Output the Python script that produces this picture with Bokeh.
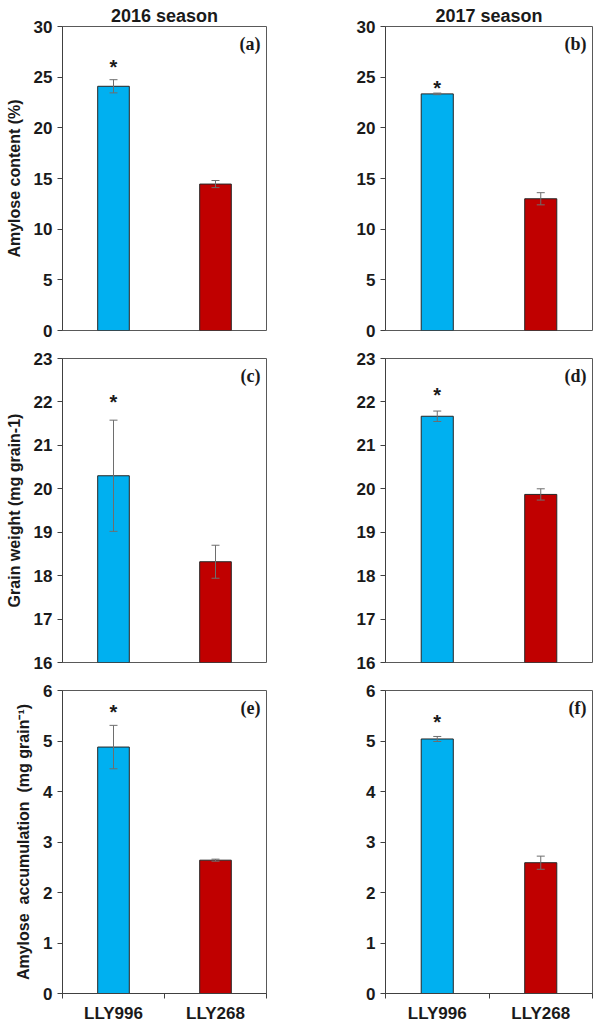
from bokeh.plotting import figure
from bokeh.layouts import gridplot
from bokeh.models import (ColumnDataSource, Whisker, TeeHead, Label, FixedTicker)
from bokeh.embed import file_html
from bokeh.resources import INLINE

# ---------------- data ----------------
cultivars = ["LLY996", "LLY268"]
seasons = ["2016 season", "2017 season"]

amylose_2016 = [24.1, 14.45]
amylose_2016_err = [0.65, 0.35]
amylose_2017 = [23.35, 13.0]
amylose_2017_err = [0.08, 0.6]

grain_2016 = [20.3, 18.32]
grain_2016_err = [1.28, 0.38]
grain_2017 = [21.67, 19.87]
grain_2017_err = [0.12, 0.13]

accum_2016 = [4.88, 2.64]
accum_2016_err = [0.43, 0.02]
accum_2017 = [5.04, 2.59]
accum_2017_err = [0.05, 0.13]

# asterisk (significance) heights
star_y = {"a": 26.35, "b": 24.3, "c": 22.1, "d": 22.25, "e": 5.65, "f": 5.45}

ticks_amylose = [0, 5, 10, 15, 20, 25, 30]
ticks_grain = [16, 17, 18, 19, 20, 21, 22, 23]
ticks_accum = [0, 1, 2, 3, 4, 5, 6]

ylabel_amylose = "Amylose content (%)"
ylabel_grain = "Grain weight (mg grain-1)"
ylabel_accum = "Amylose \u00a0accumulation \u00a0(mg grain\u207b\u00b9)"

# ---------------- style ----------------
BAR_COLORS = ["#00B0F0", "#C00000"]
FONT = "Liberation Sans"
SERIF = "Liberation Serif"
AXIS_COL = "#404040"
TEXT_COL = "#1a1a1a"
ERR_COL = "#6e6e6e"

xpos = [0.5, 1.5]


def make_panel(vals, errs, yrange, yticks, tag, star, left, top_row, bottom_row,
               title=None, ylabel=None):
    if left:
        width, mb_left, mb_right = 296, 62, 30
    else:
        width, mb_left, mb_right = 297, 89, 1
    if top_row:
        height, mb_top, mb_bottom = 339, 26, 9
    elif bottom_row:
        height, mb_top, mb_bottom = 354, 19, 31
    else:
        height, mb_top, mb_bottom = 332, 19, 9

    p = figure(width=width, height=height, x_range=(0, 2), y_range=yrange,
               output_backend="svg", toolbar_location=None,
               min_border_left=mb_left, min_border_right=mb_right,
               min_border_top=mb_top, min_border_bottom=mb_bottom,
               title=title)
    p.background_fill_color = "white"
    p.border_fill_color = "white"
    p.outline_line_color = "#595959"
    p.outline_line_width = 1
    p.xgrid.visible = False
    p.ygrid.visible = False

    if title:
        p.title.text_font = FONT
        p.title.text_font_style = "bold"
        p.title.text_font_size = "18px"
        p.title.text_color = TEXT_COL
        p.title.align = "center"
        p.title.standoff = 2
        p.title.offset = 0

    src = ColumnDataSource(dict(
        x=xpos, top=vals, color=BAR_COLORS,
        upper=[v + e for v, e in zip(vals, errs)],
        lower=[v - e for v, e in zip(vals, errs)],
    ))
    p.vbar(x="x", top="top", bottom=yrange[0], width=0.31, source=src,
           fill_color="color", line_color="#262626", line_width=1)

    w = Whisker(base="x", upper="upper", lower="lower", source=src,
                level="overlay",
                line_color=ERR_COL, line_width=1,
                upper_head=TeeHead(size=8, line_color=ERR_COL, line_width=1),
                lower_head=TeeHead(size=8, line_color=ERR_COL, line_width=1))
    p.add_layout(w)

    # significance asterisk
    p.add_layout(Label(x=xpos[0], y=star, text="*", text_align="center",
                       text_baseline="middle", y_offset=-4,
                       text_font=FONT, text_font_style="bold",
                       text_font_size="20px", text_color=TEXT_COL))
    # panel tag
    p.add_layout(Label(x=2, y=yrange[1], text="(" + tag + ")", text_align="right",
                       text_baseline="top", x_offset=-6, y_offset=-7,
                       text_font=SERIF, text_font_style="bold",
                       text_font_size="18px", text_color=TEXT_COL))

    # y axis
    ya = p.yaxis[0]
    ya.ticker = FixedTicker(ticks=yticks)
    ya.axis_line_color = AXIS_COL
    ya.major_tick_line_color = AXIS_COL
    ya.major_tick_in = 0
    ya.major_tick_out = 5
    ya.minor_tick_line_color = None
    ya.major_label_text_font = FONT
    ya.major_label_text_font_style = "bold"
    ya.major_label_text_font_size = "17px"
    ya.major_label_text_color = TEXT_COL
    ya.major_label_standoff = 5
    if ylabel:
        ya.axis_label = ylabel
        ya.axis_label_text_font = FONT
        ya.axis_label_text_font_style = "bold"
        ya.axis_label_text_font_size = "16px"
        ya.axis_label_text_color = TEXT_COL
        ya.axis_label_standoff = 8

    # x axis
    xa = p.xaxis[0]
    if bottom_row:
        xa.ticker = FixedTicker(ticks=xpos, minor_ticks=[0, 1, 2])
        xa.major_label_overrides = {xpos[0]: cultivars[0], xpos[1]: cultivars[1]}
        xa.major_tick_line_color = None
        xa.minor_tick_line_color = AXIS_COL
        xa.minor_tick_in = 0
        xa.minor_tick_out = 5
        xa.axis_line_color = AXIS_COL
        xa.major_label_text_font = FONT
        xa.major_label_text_font_style = "bold"
        xa.major_label_text_font_size = "17px"
        xa.major_label_text_color = TEXT_COL
        xa.major_label_standoff = 4
    else:
        xa.visible = False
    return p


pa = make_panel(amylose_2016, amylose_2016_err, (0, 30), ticks_amylose, "a", star_y["a"],
                True, True, False, title=seasons[0], ylabel=ylabel_amylose)
pb = make_panel(amylose_2017, amylose_2017_err, (0, 30), ticks_amylose, "b", star_y["b"],
                False, True, False, title=seasons[1])
pc = make_panel(grain_2016, grain_2016_err, (16, 23), ticks_grain, "c", star_y["c"],
                True, False, False, ylabel=ylabel_grain)
pd_ = make_panel(grain_2017, grain_2017_err, (16, 23), ticks_grain, "d", star_y["d"],
                 False, False, False)
pe = make_panel(accum_2016, accum_2016_err, (0, 6), ticks_accum, "e", star_y["e"],
                True, False, True, ylabel=ylabel_accum)
pf = make_panel(accum_2017, accum_2017_err, (0, 6), ticks_accum, "f", star_y["f"],
                False, False, True)

grid = gridplot([[pa, pb], [pc, pd_], [pe, pf]], toolbar_location=None)

open("out.html", "w").write(file_html(grid, INLINE))
